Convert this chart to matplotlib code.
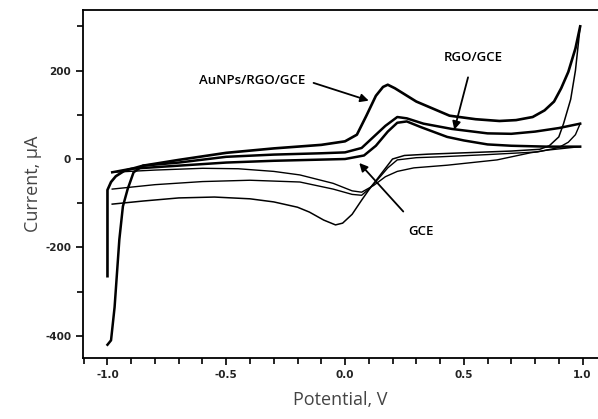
import numpy as np
import matplotlib.pyplot as plt
from matplotlib.ticker import MultipleLocator

# AuNPs/RGO/GCE loop (potential V, current uA)
au_fwd_x = [-1.0, -1.0, -0.985, -0.965, -0.93, -0.85, -0.7, -0.5, -0.3, -0.1, 0.0, 0.05, 0.09,
            0.13, 0.16, 0.18, 0.21, 0.3, 0.44, 0.55, 0.65, 0.72, 0.79, 0.84, 0.88, 0.91, 0.94,
            0.97, 0.99]
au_fwd_y = [-265, -70, -52, -39, -27, -15, -2, 14, 24, 32, 40, 55, 98,
            143, 163, 168, 160, 130, 98, 90, 86, 88, 95, 110, 130, 160, 197,
            250, 300]
au_rev_x = [0.99, 0.97, 0.95, 0.92, 0.9, 0.86, 0.82, 0.7, 0.5, 0.35, 0.25, 0.2, 0.15, 0.1,
            0.07, 0.03, -0.01, -0.04, -0.09, -0.15, -0.2, -0.3, -0.4, -0.55, -0.7, -0.85, -0.98]
au_rev_y = [300, 200, 135, 80, 50, 30, 22, 18, 14, 11, 8, 0, -35, -70,
            -93, -125, -145, -149, -138, -120, -109, -97, -90, -86, -88, -95, -102]

# RGO/GCE loop
rgo_fwd_x = [-1.0, -0.985, -0.97, -0.95, -0.935, -0.915, -0.89, -0.85, -0.7, -0.5, -0.3, -0.1,
             0.0, 0.07, 0.12, 0.17, 0.22, 0.26, 0.33, 0.45, 0.6, 0.7, 0.8, 0.9, 0.99]
rgo_fwd_y = [-420, -410, -335, -182, -107, -68, -30, -15, -8, 5, 10, 13,
             15, 25, 50, 75, 95, 92, 80, 68, 58, 57, 62, 70, 80]
rgo_rev_x = [0.99, 0.97, 0.94, 0.9, 0.81, 0.6, 0.4, 0.3, 0.22, 0.18, 0.14, 0.1, 0.07, 0.03,
             -0.05, -0.19, -0.4, -0.6, -0.8, -0.98]
rgo_rev_y = [80, 55, 38, 26, 16, 10, 5, 3, -2, -20, -45, -68, -82, -80,
             -68, -52, -48, -51, -58, -68]

# bare GCE loop
gce_fwd_x = [-0.98, -0.9, -0.7, -0.5, -0.3, 0.0, 0.08, 0.13, 0.18, 0.22, 0.26, 0.32, 0.43,
             0.5, 0.6, 0.7, 0.85, 0.99]
gce_fwd_y = [-30, -22, -15, -8, -4, 0, 8, 30, 62, 82, 85, 72, 50,
             42, 33, 30, 28, 28]
gce_rev_x = [0.99, 0.85, 0.78, 0.64, 0.43, 0.29, 0.22, 0.17, 0.12, 0.07, 0.03, -0.05,
             -0.19, -0.3, -0.45, -0.6, -0.8, -0.98]
gce_rev_y = [28, 20, 14, -2, -14, -20, -28, -40, -60, -75, -72, -55,
             -36, -28, -22, -21, -25, -30]

fig = plt.figure(figsize=(5.98, 4.19), dpi=100)
ax = fig.add_axes([83 / 598, 61 / 419, 515 / 598, 348 / 419])

ax.plot(au_fwd_x, au_fwd_y, color='black', lw=1.9)
ax.plot(au_rev_x, au_rev_y, color='black', lw=1.1)
ax.plot(rgo_fwd_x, rgo_fwd_y, color='black', lw=1.8)
ax.plot(rgo_rev_x, rgo_rev_y, color='black', lw=1.0)
ax.plot(gce_fwd_x, gce_fwd_y, color='black', lw=1.8)
ax.plot(gce_rev_x, gce_rev_y, color='black', lw=1.0)

ax.set_xlim(-1.103, 1.065)
ax.set_ylim(-450, 337)

ax.spines['right'].set_visible(False)
for s in ['left', 'top', 'bottom']:
    ax.spines[s].set_linewidth(1.3)

ax.xaxis.set_minor_locator(MultipleLocator(0.1))
ax.yaxis.set_minor_locator(MultipleLocator(100))
ax.tick_params(which='both', direction='out', width=1.2, top=False, right=False)
ax.tick_params(which='major', length=5)
ax.tick_params(which='minor', length=4)
ax.set_yticks([-400, -200, 0, 200])
ax.set_yticklabels(['-400', '-200', '0', '200'], fontweight='bold', fontsize=7.5, color='#222222')
ax.set_xticks([-1.0, -0.5, 0.0, 0.5, 1.0])
ax.set_xticklabels(['-1.0', '-0.5', '0.0', '0.5', '1.0'], fontweight='bold', fontsize=7.5,
                   color='#222222')

ax.set_xlabel('Potential, V', fontsize=13, color='#444444', family='Open Sans', labelpad=8)
ax.set_ylabel('Current, μA', fontsize=13, color='#444444', family='Open Sans', labelpad=2)

arrow = dict(arrowstyle='-|>', color='black', lw=1.3, mutation_scale=12)
ax.annotate('AuNPs/RGO/GCE', xy=(0.1, 132), xytext=(-0.39, 178), fontsize=9.5,
            fontweight='semibold', family='Open Sans', ha='center', va='center',
            arrowprops=dict(arrow, shrinkA=4, shrinkB=0, relpos=(1.0, 0.5)))
ax.annotate('RGO/GCE', xy=(0.46, 66), xytext=(0.54, 230), fontsize=9.5,
            fontweight='semibold', family='Open Sans', ha='center', va='center',
            arrowprops=dict(arrow, shrinkA=8, shrinkB=0))
ax.annotate('GCE', xy=(0.06, -9), xytext=(0.32, -163), fontsize=9.5,
            fontweight='semibold', family='Open Sans', ha='center', va='center',
            arrowprops=dict(arrow, shrinkA=10, shrinkB=0))

fig.savefig('out.png', dpi=100)
